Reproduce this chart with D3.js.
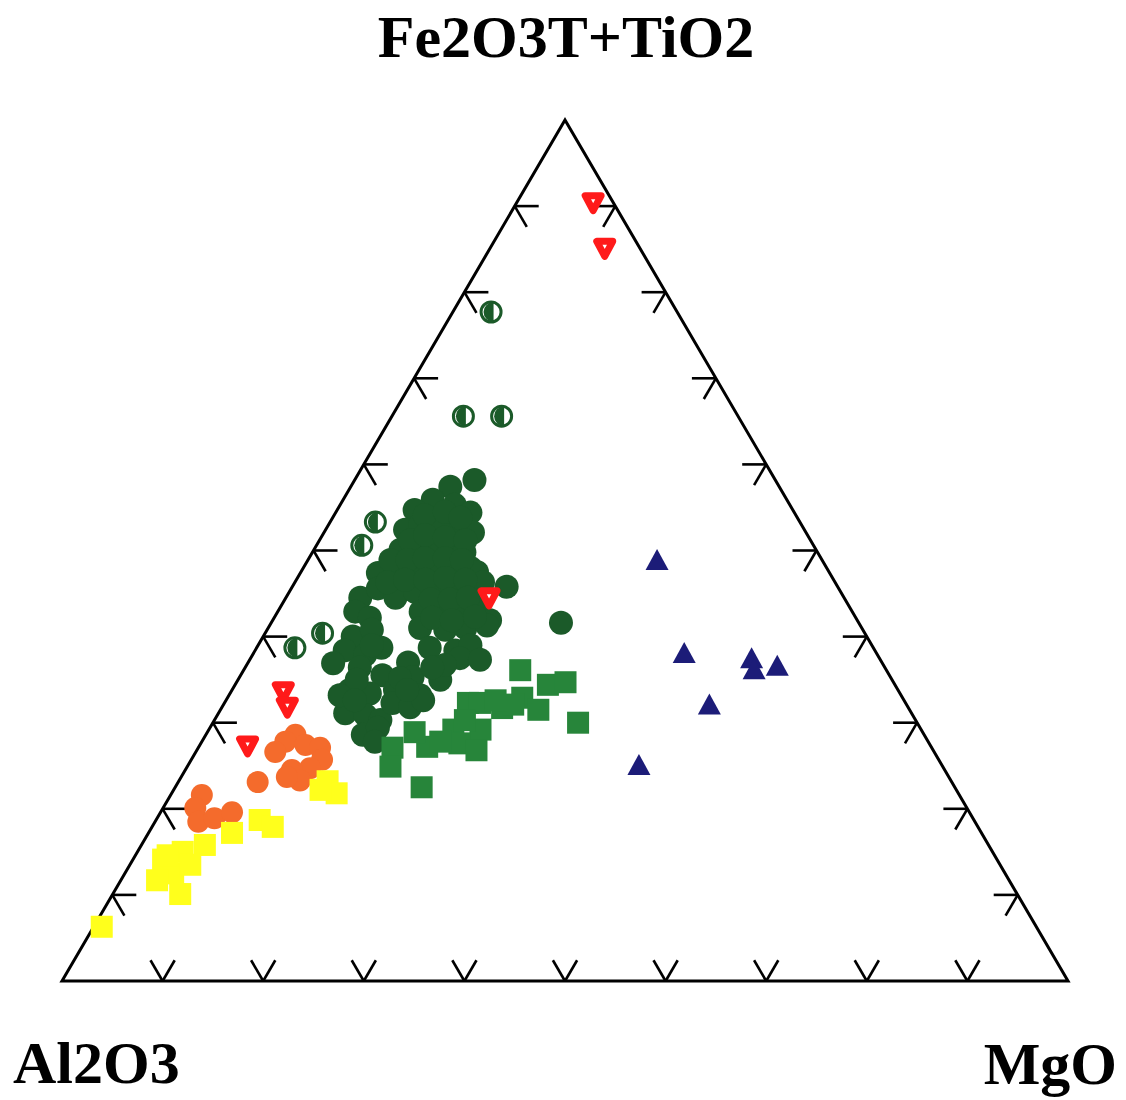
<!DOCTYPE html>
<html><head><meta charset="utf-8">
<script src="https://cdn.jsdelivr.net/npm/d3@7"></script>
<style>body{margin:0;background:#fff}svg{display:block}</style>
</head><body>
<script>
// Axis labels: [top, left, right]
const axisLabels = ["Fe2O3T+TiO2", "Al2O3", "MgO"];
const tickValues = [10, 20, 30, 40, 50, 60, 70, 80, 90];

// Each point: [Al2O3, Fe2O3T+TiO2, MgO] in %
const darkGreenCircles = [
  [29.9,58.2,11.9],[32.7,57.4,9.9],[35.2,55.9,8.9],[37.6,54.7,7.7],[33.3,55.3,11.4],[32.3,54.4,13.4],
  [39.7,52.4,7.9],[37.9,53.0,9.1],[36.0,53.0,11.1],[34.2,52.4,13.4],[33.1,52.1,14.8],
  [41.4,50.1,8.6],[39.8,50.3,9.9],[38.1,50.6,11.3],[36.4,50.1,13.5],[35.0,49.8,15.1],
  [44.9,47.4,7.7],[42.7,47.7,9.5],[41.2,47.5,11.3],[38.9,48.0,13.1],[37.1,47.7,15.2],[35.5,48.0,16.6],[35.0,47.5,17.5],
  [48.1,44.5,7.4],[45.8,45.6,8.6],[44.7,44.5,10.9],[42.3,45.2,12.5],[40.2,45.4,14.4],[38.2,45.4,16.4],[36.5,45.4,18.1],[35.0,46.3,18.7],[32.9,45.8,21.3],
  [49.4,42.9,7.7],[48.3,42.2,9.5],[43.0,42.9,14.2],[40.8,43.3,15.9],[38.9,43.1,18.0],[36.8,43.7,19.5],[36.5,41.9,21.6],
  [51.1,40.0,8.9],[48.8,40.8,10.4],[43.9,41.0,15.1],[41.5,40.8,17.7],[39.4,41.0,19.6],[37.1,41.3,21.6],[29.6,41.6,28.8],
  [52.6,38.4,8.9],[51.0,37.9,11.2],[49.0,38.7,12.4],[47.1,37.0,15.9],[44.1,38.7,17.2],[41.7,38.4,19.9],[39.9,39.0,21.1],
  [54.6,36.9,8.5],[52.2,36.4,11.4],[50.3,35.5,14.1],[47.5,35.3,17.2],[45.0,35.0,20.1],[41.7,37.5,20.8],[39.8,37.3,22.9],
  [54.5,33.8,11.7],[52.7,33.4,13.9],[50.0,33.8,16.2],[47.8,33.2,19.0],
  [56.3,31.1,12.6],[54.4,30.9,14.7],[53.2,30.3,16.5],[51.0,32.3,16.7],[49.5,31.8,18.7],[47.8,32.6,19.6],
  [55.8,28.6,15.6],[53.9,29.4,16.7],
  [36.9,54.1,9.0],[34.7,54.5,10.8],[33.6,53.8,12.7],[39.8,51.2,9.0],[38.0,51.8,10.2],[36.2,51.5,12.3],[34.3,51.2,14.5],
  [43.0,48.9,8.2],[41.2,48.9,9.9],[39.4,49.1,11.5],[37.4,49.1,13.5],[35.8,48.9,15.3],
  [44.4,46.3,9.2],[42.6,46.6,10.8],[40.6,46.6,12.8],[38.5,46.8,14.7],[36.7,46.6,16.8],
  [41.3,44.3,14.5],[39.3,44.3,16.4],[37.4,44.5,18.1],[42.1,42.2,15.7],[40.3,41.9,17.8],[37.8,42.3,19.9],
  [49.7,39.0,11.3],[43.6,36.7,19.7],[48.8,35.2,16.0],[53.2,35.0,11.8],[55.8,33.2,11.0],[54.5,32.6,12.8],
  [48.8,33.8,17.4],[45.1,36.4,18.6],[55.0,27.8,17.2]
];
const halfCircles = [
  [18.5,77.7,3.8],[27.3,65.6,7.1],[23.4,65.6,10.9],[42.2,53.3,4.5],[44.9,50.6,4.5],[53.9,40.4,5.7],[57.5,38.7,3.8]
];
const greenSquares = [
  [36.4,36.1,27.5],[34.5,34.4,31.1],[32.5,34.7,32.7],[33.7,30.0,36.3],[37.8,32.9,29.3],[36.9,31.5,31.6],
  [40.4,31.7,27.9],[43.5,32.3,24.2],[42.3,32.3,25.4],[43.9,29.2,27.0],[46.6,29.2,24.3],[46.6,27.6,25.7],
  [45.3,26.8,27.8],[50.1,27.2,22.7],[50.4,28.9,20.6],[53.7,27.1,19.3],[55.0,24.9,20.2],[53.0,22.5,24.5],
  [39.1,32.1,28.8],[48.6,27.8,23.7],[44.8,30.3,24.9],[40.5,32.6,26.8]
];
const orangeCircles = [
  [62.6,28.6,8.9],[64.0,27.8,8.3],[65.5,26.6,7.9],[62.1,27.4,10.5],[60.8,27.1,12.1],[61.3,25.7,13.0],
  [63.0,24.7,12.3],[64.9,24.5,10.6],[64.7,23.3,12.0],[65.8,23.7,10.5],[69.0,23.1,7.9],
  [75.3,21.6,3.1],[76.7,20.1,3.2],[77.2,18.5,4.3],[75.3,18.9,5.7],[73.3,19.6,7.1]
];
const yellowSquares = [
  [61.9,23.2,14.8],[61.7,21.8,16.4],[63.3,22.2,14.6],[71.0,18.7,10.3],[70.1,17.9,12.0],[74.5,17.2,8.3],
  [77.9,15.8,6.3],[80.5,15.0,4.5],[82.9,14.1,3.0],[82.7,12.5,4.8],[84.7,11.7,3.6],[83.2,10.1,6.7],
  [92.9,6.3,0.8],[80.6,13.5,6.0],[82.1,14.6,3.2]
];
const blueTriangles = [
  [16.4,48.9,34.7],[19.1,38.1,42.8],[12.7,37.5,49.8],[13.1,36.2,50.7],[10.6,36.6,52.8],[19.7,32.1,48.3],[30.1,25.1,44.8]
];
const redTriangles = [
  [2.0,90.4,7.6],[3.5,85.1,11.4],[35.3,44.5,20.2],[61.2,33.6,5.2],[61.7,31.8,6.5],[67.9,27.3,4.8]
];

const W = 1126, H = 1100;
const svg = d3.select("body").append("svg").attr("width", W).attr("height", H);
const xs = d3.scaleLinear().domain([0, 100]).range([62, 1068]);
const ys = d3.scaleLinear().domain([0, 100]).range([981, 120]);
const pos = d => [xs(d[2] + d[1] / 2), ys(d[1])];

const L = pos([100, 0, 0]), R = pos([0, 0, 100]), T = pos([0, 100, 0]);
const unit = (a, b) => { const dx = b[0] - a[0], dy = b[1] - a[1], n = Math.hypot(dx, dy); return [dx / n, dy / n]; };

// Frame
svg.append("path")
  .attr("d", `M${L[0]},${L[1]}L${R[0]},${R[1]}L${T[0]},${T[1]}Z`)
  .attr("fill", "none").attr("stroke", "#000").attr("stroke-width", 3).attr("stroke-linejoin", "miter");

// Ticks
const tickLen = 24;
const tickG = svg.append("g").attr("stroke", "#000").attr("stroke-width", 2.6).attr("fill", "none");
function drawTick(p, dirs) {
  dirs.forEach(u => {
    tickG.append("line").attr("x1", p[0]).attr("y1", p[1])
      .attr("x2", p[0] + u[0] * tickLen).attr("y2", p[1] + u[1] * tickLen);
  });
}
tickValues.forEach(v => {
  drawTick(pos([100 - v, 0, v]), [unit(R, T), unit(L, T)]);
  drawTick(pos([100 - v, v, 0]), [unit(L, R), unit(T, R)]);
  drawTick(pos([0, v, 100 - v]), [unit(R, L), unit(T, L)]);
});

const cDark = "#1b5a29", cGreen = "#27853a", cOrange = "#f46b2c", cYellow = "#ffff1c", cBlue = "#1c1c78", cRed = "#ff1a1a";

// Dark green circles
svg.append("g").selectAll("circle").data(darkGreenCircles).join("circle")
  .attr("cx", d => pos(d)[0]).attr("cy", d => pos(d)[1]).attr("r", 12).attr("fill", cDark);

// Half-filled circles
const hc = svg.append("g").selectAll("g").data(halfCircles).join("g")
  .attr("transform", d => `translate(${pos(d)[0]},${pos(d)[1]})`);
hc.append("circle").attr("r", 10).attr("fill", "#fff").attr("stroke", cDark).attr("stroke-width", 3);
hc.append("path").attr("d", "M2.5,-10A10,10 0 1 0 2.5,10Z").attr("fill", cDark);

// Green squares
const sq = 22;
svg.append("g").selectAll("rect").data(greenSquares).join("rect")
  .attr("x", d => pos(d)[0] - sq / 2).attr("y", d => pos(d)[1] - sq / 2)
  .attr("width", sq).attr("height", sq).attr("fill", cGreen);

// Orange circles
svg.append("g").selectAll("circle").data(orangeCircles).join("circle")
  .attr("cx", d => pos(d)[0]).attr("cy", d => pos(d)[1]).attr("r", 11).attr("fill", cOrange);

// Yellow squares
const ysq = 22;
svg.append("g").selectAll("rect").data(yellowSquares).join("rect")
  .attr("x", d => pos(d)[0] - ysq / 2).attr("y", d => pos(d)[1] - ysq / 2)
  .attr("width", ysq).attr("height", ysq).attr("fill", cYellow);

// Blue triangles
svg.append("g").selectAll("path").data(blueTriangles).join("path")
  .attr("transform", d => `translate(${pos(d)[0]},${pos(d)[1]})`)
  .attr("d", "M0,-11L11.5,10L-11.5,10Z").attr("fill", cBlue);

// Red inverted triangles
svg.append("g").selectAll("path").data(redTriangles).join("path")
  .attr("transform", d => `translate(${pos(d)[0]},${pos(d)[1]})`)
  .attr("d", "M-8,-7L8,-7L0,8Z").attr("fill", "#fff")
  .attr("stroke", cRed).attr("stroke-width", 7).attr("stroke-linejoin", "round");

// Labels
const font = "'Liberation Serif', 'Times New Roman', serif";
svg.append("text").attr("x", 566).attr("y", 57).attr("text-anchor", "middle")
  .attr("font-family", font).attr("font-weight", "bold").attr("font-size", 60).text(axisLabels[0]);
svg.append("text").attr("x", 13).attr("y", 1083).attr("text-anchor", "start")
  .attr("font-family", font).attr("font-weight", "bold").attr("font-size", 60).text(axisLabels[1]);
svg.append("text").attr("x", 1117).attr("y", 1084).attr("text-anchor", "end")
  .attr("font-family", font).attr("font-weight", "bold").attr("font-size", 60).text(axisLabels[2]);
</script>
</body></html>
